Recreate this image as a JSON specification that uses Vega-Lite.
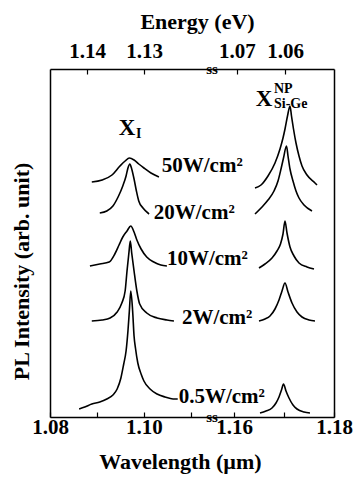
{
  "$schema": "https://vega.github.io/schema/vega-lite/v6.json",
  "background": "white",
  "padding": {"left": 10, "top": 10, "right": 5, "bottom": 2},
  "bounds": "flush",
  "spacing": 0,
  "datasets": {
    "left": [
      {"power":"50","wavelength":1.0889,"intensity":235},{"power":"50","wavelength":1.0911,"intensity":237},{"power":"50","wavelength":1.0932,"intensity":242},{"power":"50","wavelength":1.0949,"intensity":251},{"power":"50","wavelength":1.0960,"intensity":256},{"power":"50","wavelength":1.0969,"intensity":259},{"power":"50","wavelength":1.0979,"intensity":257},{"power":"50","wavelength":1.0989,"intensity":253},{"power":"50","wavelength":1.1000,"intensity":249},{"power":"50","wavelength":1.1015,"intensity":244},{"power":"50","wavelength":1.1032,"intensity":240},
      {"power":"20","wavelength":1.0906,"intensity":204},{"power":"20","wavelength":1.0921,"intensity":206},{"power":"20","wavelength":1.0934,"intensity":211},{"power":"20","wavelength":1.0946,"intensity":221},{"power":"20","wavelength":1.0955,"intensity":231},{"power":"20","wavelength":1.0962,"intensity":241},{"power":"20","wavelength":1.0966,"intensity":249},{"power":"20","wavelength":1.0970,"intensity":253},{"power":"20","wavelength":1.0974,"intensity":248},{"power":"20","wavelength":1.0979,"intensity":238},{"power":"20","wavelength":1.0984,"intensity":226},{"power":"20","wavelength":1.0989,"intensity":216},{"power":"20","wavelength":1.0998,"intensity":209},{"power":"20","wavelength":1.1011,"intensity":203},
      {"power":"10","wavelength":1.0885,"intensity":151},{"power":"10","wavelength":1.0906,"intensity":153},{"power":"10","wavelength":1.0926,"intensity":155},{"power":"10","wavelength":1.0938,"intensity":163},{"power":"10","wavelength":1.0947,"intensity":172},{"power":"10","wavelength":1.0955,"intensity":180},{"power":"10","wavelength":1.0964,"intensity":186},{"power":"10","wavelength":1.0972,"intensity":191},{"power":"10","wavelength":1.0979,"intensity":185},{"power":"10","wavelength":1.0985,"intensity":177},{"power":"10","wavelength":1.0994,"intensity":168},{"power":"10","wavelength":1.1006,"intensity":160},{"power":"10","wavelength":1.1021,"intensity":155},{"power":"10","wavelength":1.1036,"intensity":152},{"power":"10","wavelength":1.1049,"intensity":151},
      {"power":"2","wavelength":1.0889,"intensity":96},{"power":"2","wavelength":1.0911,"intensity":97},{"power":"2","wavelength":1.0928,"intensity":99},{"power":"2","wavelength":1.0943,"intensity":105},{"power":"2","wavelength":1.0953,"intensity":114},{"power":"2","wavelength":1.0960,"intensity":126},{"power":"2","wavelength":1.0964,"intensity":146},{"power":"2","wavelength":1.0968,"intensity":164},{"power":"2","wavelength":1.0971,"intensity":176},{"power":"2","wavelength":1.0974,"intensity":164},{"power":"2","wavelength":1.0979,"intensity":146},{"power":"2","wavelength":1.0985,"intensity":126},{"power":"2","wavelength":1.0991,"intensity":113},{"power":"2","wavelength":1.1006,"intensity":104},{"power":"2","wavelength":1.1028,"intensity":99},{"power":"2","wavelength":1.1049,"intensity":97},{"power":"2","wavelength":1.1064,"intensity":96},
      {"power":"0.5","wavelength":1.0862,"intensity":8},{"power":"0.5","wavelength":1.0874,"intensity":10},{"power":"0.5","wavelength":1.0889,"intensity":13},{"power":"0.5","wavelength":1.0906,"intensity":15},{"power":"0.5","wavelength":1.0921,"intensity":18},{"power":"0.5","wavelength":1.0934,"intensity":22},{"power":"0.5","wavelength":1.0943,"intensity":28},{"power":"0.5","wavelength":1.0951,"intensity":39},{"power":"0.5","wavelength":1.0957,"intensity":53},{"power":"0.5","wavelength":1.0962,"intensity":66},{"power":"0.5","wavelength":1.0966,"intensity":86},{"power":"0.5","wavelength":1.0969,"intensity":106},{"power":"0.5","wavelength":1.0972,"intensity":126},{"power":"0.5","wavelength":1.0976,"intensity":106},{"power":"0.5","wavelength":1.0979,"intensity":81},{"power":"0.5","wavelength":1.0982,"intensity":69},{"power":"0.5","wavelength":1.0987,"intensity":54},{"power":"0.5","wavelength":1.0994,"intensity":43},{"power":"0.5","wavelength":1.1000,"intensity":36},{"power":"0.5","wavelength":1.1013,"intensity":28},{"power":"0.5","wavelength":1.1028,"intensity":23},{"power":"0.5","wavelength":1.1045,"intensity":20},{"power":"0.5","wavelength":1.1062,"intensity":18},{"power":"0.5","wavelength":1.1072,"intensity":18}
    ],
    "right": [
      {"power":"50","wavelength":1.1642,"intensity":229},{"power":"50","wavelength":1.1654,"intensity":232},{"power":"50","wavelength":1.1668,"intensity":241},{"power":"50","wavelength":1.1682,"intensity":254},{"power":"50","wavelength":1.1692,"intensity":268},{"power":"50","wavelength":1.1698,"intensity":279},{"power":"50","wavelength":1.1702,"intensity":288},{"power":"50","wavelength":1.1707,"intensity":301},{"power":"50","wavelength":1.1712,"intensity":311},{"power":"50","wavelength":1.1715,"intensity":301},{"power":"50","wavelength":1.1719,"intensity":288},{"power":"50","wavelength":1.1724,"intensity":274},{"power":"50","wavelength":1.1730,"intensity":261},{"power":"50","wavelength":1.1736,"intensity":251},{"power":"50","wavelength":1.1746,"intensity":242},{"power":"50","wavelength":1.1762,"intensity":234},{"power":"50","wavelength":1.1766,"intensity":232},
      {"power":"20","wavelength":1.1642,"intensity":203},{"power":"20","wavelength":1.1656,"intensity":210},{"power":"20","wavelength":1.1668,"intensity":217},{"power":"20","wavelength":1.1680,"intensity":226},{"power":"20","wavelength":1.1688,"intensity":236},{"power":"20","wavelength":1.1694,"intensity":248},{"power":"20","wavelength":1.1699,"intensity":259},{"power":"20","wavelength":1.1705,"intensity":271},{"power":"20","wavelength":1.1708,"intensity":261},{"power":"20","wavelength":1.1712,"intensity":248},{"power":"20","wavelength":1.1718,"intensity":236},{"power":"20","wavelength":1.1724,"intensity":226},{"power":"20","wavelength":1.1730,"intensity":219},{"power":"20","wavelength":1.1740,"intensity":212},{"power":"20","wavelength":1.1756,"intensity":206},
      {"power":"10","wavelength":1.1650,"intensity":149},{"power":"10","wavelength":1.1662,"intensity":153},{"power":"10","wavelength":1.1676,"intensity":159},{"power":"10","wavelength":1.1686,"intensity":166},{"power":"10","wavelength":1.1693,"intensity":173},{"power":"10","wavelength":1.1698,"intensity":183},{"power":"10","wavelength":1.1702,"intensity":196},{"power":"10","wavelength":1.1706,"intensity":184},{"power":"10","wavelength":1.1712,"intensity":170},{"power":"10","wavelength":1.1720,"intensity":161},{"power":"10","wavelength":1.1730,"intensity":154},{"power":"10","wavelength":1.1746,"intensity":150},{"power":"10","wavelength":1.1760,"intensity":148},
      {"power":"2","wavelength":1.1650,"intensity":96},{"power":"2","wavelength":1.1662,"intensity":98},{"power":"2","wavelength":1.1672,"intensity":101},{"power":"2","wavelength":1.1682,"intensity":108},{"power":"2","wavelength":1.1690,"intensity":117},{"power":"2","wavelength":1.1696,"intensity":126},{"power":"2","wavelength":1.1702,"intensity":134},{"power":"2","wavelength":1.1708,"intensity":125},{"power":"2","wavelength":1.1716,"intensity":114},{"power":"2","wavelength":1.1726,"intensity":105},{"power":"2","wavelength":1.1736,"intensity":100},{"power":"2","wavelength":1.1750,"intensity":97},{"power":"2","wavelength":1.1762,"intensity":96},
      {"power":"0.5","wavelength":1.1652,"intensity":4},{"power":"0.5","wavelength":1.1664,"intensity":6},{"power":"0.5","wavelength":1.1676,"intensity":9},{"power":"0.5","wavelength":1.1684,"intensity":14},{"power":"0.5","wavelength":1.1690,"intensity":20},{"power":"0.5","wavelength":1.1695,"intensity":27},{"power":"0.5","wavelength":1.1699,"intensity":33},{"power":"0.5","wavelength":1.1704,"intensity":26},{"power":"0.5","wavelength":1.1710,"intensity":19},{"power":"0.5","wavelength":1.1718,"intensity":12},{"power":"0.5","wavelength":1.1726,"intensity":8},{"power":"0.5","wavelength":1.1740,"intensity":5},{"power":"0.5","wavelength":1.1752,"intensity":4}
    ],
    "labelsLeft": [
      {"role":"power","text":"50W/cm²","wavelength":1.1038,"intensity":251},
      {"role":"power","text":"20W/cm²","wavelength":1.1021,"intensity":204},
      {"role":"power","text":"10W/cm²","wavelength":1.1049,"intensity":158},
      {"role":"power","text":"2W/cm²","wavelength":1.1081,"intensity":99},
      {"role":"power","text":"0.5W/cm²","wavelength":1.1074,"intensity":20},
      {"role":"main","text":"X","wavelength":1.0964,"intensity":289},
      {"role":"sub","text":"I","wavelength":1.0983,"intensity":283}
    ],
    "labelsRight": [
      {"role":"main","text":"X","wavelength":1.1660,"intensity":318},
      {"role":"sub","text":"NP","wavelength":1.1680,"intensity":328},
      {"role":"sub","text":"Si-Ge","wavelength":1.1680,"intensity":313},
      {"role":"break","text":"ss","wavelength":1.1556,"intensity":348},
      {"role":"break","text":"ss","wavelength":1.1556,"intensity":0}
    ]
  },
  "hconcat": [
    {
      "width": 162,
      "height": 348,
      "layer": [
        {
          "layer": [
            {
              "data": {"name": "left"},
              "mark": {"type": "line", "color": "black", "strokeWidth": 1.6, "interpolate": "monotone"},
              "encoding": {
                "x": {"field": "wavelength", "type": "quantitative",
                      "scale": {"domain": [1.08, 1.1145], "nice": false, "zero": false},
                      "axis": {"orient": "bottom", "values": [1.08, 1.09, 1.1, 1.11],
                               "labelExpr": "format(datum.value, '.2f') == '1.09' || format(datum.value, '.2f') == '1.11' ? '' : format(datum.value, '.2f')",
                               "title": "Wavelength (µm)", "titleX": 130}},
                "y": {"field": "intensity", "type": "quantitative",
                      "scale": {"domain": [0, 348], "nice": false, "zero": false},
                      "axis": {"title": "PL Intensity (arb. unit)", "ticks": false, "labels": false, "titleY": 202, "titlePadding": 17, "titleFontSize": 22}},
                "detail": {"field": "power"}
              }
            },
            {
              "data": {"name": "labelsLeft"},
              "transform": [{"filter": "datum.role == 'power'"}],
              "mark": {"type": "text", "align": "left", "baseline": "middle", "font": "Liberation Serif", "fontWeight": "bold", "fontSize": 21, "color": "black"},
              "encoding": {
                "x": {"field": "wavelength", "type": "quantitative"},
                "y": {"field": "intensity", "type": "quantitative"},
                "text": {"field": "text"}
              }
            },
            {
              "data": {"name": "labelsLeft"},
              "transform": [{"filter": "datum.role == 'main'"}],
              "mark": {"type": "text", "align": "center", "baseline": "middle", "font": "Liberation Serif", "fontWeight": "bold", "fontSize": 23, "color": "black"},
              "encoding": {
                "x": {"field": "wavelength", "type": "quantitative"},
                "y": {"field": "intensity", "type": "quantitative"},
                "text": {"field": "text"}
              }
            },
            {
              "data": {"name": "labelsLeft"},
              "transform": [{"filter": "datum.role == 'sub'"}],
              "mark": {"type": "text", "align": "left", "baseline": "middle", "font": "Liberation Serif", "fontWeight": "bold", "fontSize": 14, "color": "black"},
              "encoding": {
                "x": {"field": "wavelength", "type": "quantitative"},
                "y": {"field": "intensity", "type": "quantitative"},
                "text": {"field": "text"}
              }
            }
          ]
        },
        {
          "data": {"values": [{"eV": 1.14}, {"eV": 1.13}]},
          "mark": {"type": "point", "opacity": 0},
          "encoding": {
            "x": {"field": "eV", "type": "quantitative",
                  "scale": {"domain": [1.1181, 1.1465], "reverse": true, "nice": false, "zero": false},
                  "axis": {"orient": "top", "values": [1.14, 1.13], "format": ".2f", "title": "Energy (eV)", "titleX": 147}}
          }
        }
      ],
      "resolve": {"scale": {"x": "independent"}}
    },
    {
      "width": 122,
      "height": 348,
      "layer": [
        {
          "layer": [
            {
              "data": {"name": "right"},
              "mark": {"type": "line", "color": "black", "strokeWidth": 1.6, "interpolate": "monotone"},
              "encoding": {
                "x": {"field": "wavelength", "type": "quantitative",
                      "scale": {"domain": [1.1556, 1.18], "nice": false, "zero": false},
                      "axis": {"orient": "bottom", "values": [1.16, 1.17, 1.18],
                               "labelExpr": "format(datum.value, '.2f') == '1.17' ? '' : format(datum.value, '.2f')",
                               "title": null}},
                "y": {"field": "intensity", "type": "quantitative",
                      "scale": {"domain": [0, 348], "nice": false, "zero": false},
                      "axis": {"orient": "right", "title": null, "ticks": false, "labels": false}},
                "detail": {"field": "power"}
              }
            },
            {
              "data": {"name": "labelsRight"},
              "transform": [{"filter": "datum.role == 'main'"}],
              "mark": {"type": "text", "align": "center", "baseline": "middle", "font": "Liberation Serif", "fontWeight": "bold", "fontSize": 23, "color": "black"},
              "encoding": {
                "x": {"field": "wavelength", "type": "quantitative"},
                "y": {"field": "intensity", "type": "quantitative"},
                "text": {"field": "text"}
              }
            },
            {
              "data": {"name": "labelsRight"},
              "transform": [{"filter": "datum.role == 'sub'"}],
              "mark": {"type": "text", "align": "left", "baseline": "middle", "font": "Liberation Serif", "fontWeight": "bold", "fontSize": 14, "color": "black"},
              "encoding": {
                "x": {"field": "wavelength", "type": "quantitative"},
                "y": {"field": "intensity", "type": "quantitative"},
                "text": {"field": "text"}
              }
            },
            {
              "data": {"name": "labelsRight"},
              "transform": [{"filter": "datum.role == 'break'"}],
              "mark": {"type": "text", "align": "center", "baseline": "middle", "font": "Liberation Serif", "fontWeight": "bold", "fontSize": 15, "color": "black"},
              "encoding": {
                "x": {"field": "wavelength", "type": "quantitative"},
                "y": {"field": "intensity", "type": "quantitative"},
                "text": {"field": "text"}
              }
            }
          ]
        },
        {
          "data": {"values": [{"eV": 1.07}, {"eV": 1.06}]},
          "mark": {"type": "point", "opacity": 0},
          "encoding": {
            "x": {"field": "eV", "type": "quantitative",
                  "scale": {"domain": [1.0498, 1.0752], "reverse": true, "nice": false, "zero": false},
                  "axis": {"orient": "top", "values": [1.07, 1.06], "format": ".2f", "title": null}}
          }
        }
      ],
      "resolve": {"scale": {"x": "independent"}}
    }
  ],
  "config": {
    "view": {"stroke": null},
    "axis": {
      "grid": false,
      "domain": true,
      "domainColor": "black",
      "domainWidth": 1.5,
      "ticks": true,
      "tickColor": "black",
      "tickSize": -5,
      "tickWidth": 1.2,
      "labelColor": "black",
      "labelFont": "Liberation Serif",
      "labelFontWeight": "bold",
      "labelFontSize": 21,
      "titleFont": "Liberation Serif",
      "titleFontWeight": "bold",
      "titleFontSize": 22,
      "titleColor": "black",
      "labelFlush": false,
      "labelOverlap": false
    },
    "axisBottom": {"labelPadding": 4, "titlePadding": 14},
    "axisTop": {"labelPadding": 13, "titlePadding": 7}
  }
}
